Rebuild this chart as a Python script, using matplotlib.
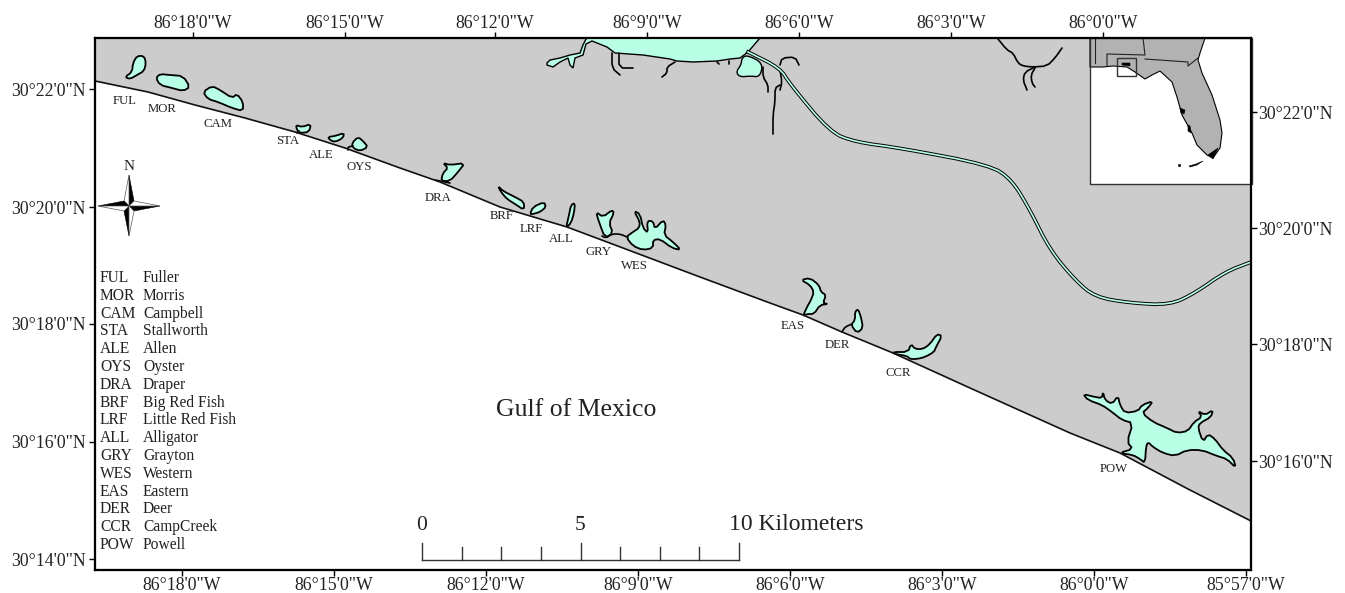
import matplotlib
matplotlib.use("Agg")
import matplotlib.pyplot as plt
from matplotlib.patches import Polygon, Rectangle

plt.rcParams["font.family"] = ["Liberation Serif", "DejaVu Serif"]

coast = [(95, 81), (148, 92), (195, 105), (245, 118), (295, 132), (345, 148), (400, 168),
         (440, 182), (500, 207), (567, 227), (607, 242), (700, 277), (770, 303), (803, 315),
         (842, 332), (893, 353), (970, 388), (1070, 433), (1120, 453), (1188, 489), (1251, 521)]

lagoons = {
    "FUL": [(125, 77), (132, 72), (133, 63), (137, 56), (144, 56), (146, 63), (144, 71), (137, 75), (130, 79)],
    "MOR": [(156, 78), (160, 74), (170, 75), (183, 76), (190, 87), (183, 91), (172, 88), (160, 85)],
    "CAM": [(203, 92), (212, 86), (220, 90), (232, 98), (237, 94), (243, 102), (243, 111), (232, 108), (218, 102), (208, 99)],
    "STA": [(296, 125), (302, 127), (311, 124), (309, 132), (300, 133), (297, 130)],
    "ALE": [(328, 137), (335, 136), (344, 133), (343, 138), (335, 142), (330, 140)],
    "OYS": [(352, 143), (358, 137), (363, 141), (368, 147), (360, 151), (353, 148)],
    "DRA": [(443, 163), (450, 165), (465, 163), (458, 172), (450, 181), (441, 181), (443, 173), (448, 168)],
    "BRF": [(498, 186), (503, 191), (515, 197), (524, 202), (524, 210), (515, 204), (507, 199), (501, 192)],
    "LRF": [(530, 214), (533, 207), (544, 202), (546, 207), (540, 212), (533, 214)],
    "ALL": [(566, 228), (569, 215), (571, 205), (575, 203), (574, 213), (571, 223)],
    "GRY": [(596, 212), (603, 217), (612, 210), (614, 213), (609, 223), (613, 233), (605, 238), (599, 222)],
    "WES": [(626, 237), (633, 232), (639, 228), (640, 222), (634, 211), (640, 214), (643, 228), (648, 233), (647, 221),
            (653, 221), (655, 229), (663, 220), (666, 225), (664, 235), (673, 242), (681, 250), (672, 248), (660, 239),
            (653, 240), (653, 248), (643, 250), (633, 246)],
    "EAS": [(801, 280), (810, 278), (819, 285), (821, 292), (826, 295), (823, 303), (828, 304), (820, 305), (814, 314),
            (807, 314), (803, 316), (807, 307), (811, 300), (814, 292), (810, 285)],
    "DER": [(855, 312), (858, 309), (861, 317), (863, 328), (857, 333), (851, 325), (855, 320)],
    "CCR": [(893, 352), (908, 352), (911, 344), (915, 349), (923, 349), (930, 344), (937, 334), (942, 336), (936, 347),
            (934, 352), (925, 357), (917, 359), (910, 359), (907, 356), (895, 354)],
    "POW": [(1083, 394), (1095, 397), (1102, 398), (1103, 392), (1105, 400), (1112, 404), (1118, 396), (1120, 405),
            (1125, 413), (1138, 411), (1142, 405), (1153, 401), (1148, 408), (1142, 413), (1153, 422), (1167, 428),
            (1177, 433), (1188, 431), (1194, 422), (1202, 417), (1198, 411), (1205, 415), (1213, 410), (1211, 417),
            (1200, 423), (1198, 428), (1203, 442), (1208, 434), (1215, 439), (1223, 450), (1233, 458), (1236, 468),
            (1227, 459), (1217, 456), (1202, 450), (1187, 450), (1175, 456), (1163, 453), (1153, 447), (1148, 442),
            (1146, 447), (1145, 463), (1140, 459), (1133, 455), (1119, 453), (1133, 449), (1127, 442), (1133, 423),
            (1122, 420), (1112, 412), (1102, 405), (1088, 400)],
}

bay = [(547, 63), (550, 60), (560, 58), (570, 55), (580, 53), (583, 45), (586, 39), (588, 38), (760, 38), (748, 52),
       (740, 58), (730, 59), (717, 61), (693, 62), (677, 61), (670, 59), (643, 55), (615, 53), (607, 47), (592, 41),
       (586, 44), (583, 55), (575, 58), (573, 68), (570, 65), (568, 58), (560, 62), (553, 67), (547, 65)]
bay_lobe = [(742, 58), (747, 55), (763, 63), (760, 77), (750, 76), (740, 77), (736, 72), (741, 65)]
canal = [(748, 52), (780, 68), (790, 84), (830, 132), (855, 142), (900, 148), (990, 165), (1012, 180), (1030, 210),
         (1050, 250), (1075, 280), (1095, 297), (1130, 303), (1170, 305), (1195, 293), (1225, 272), (1251, 262)]

streams = [
    [(612, 53), (612, 68), (620, 75)],
    [(619, 53), (619, 68), (633, 68)],
    [(675, 62), (667, 67), (667, 73), (662, 77)],
    [(780, 85), (775, 88), (775, 102), (773, 115), (773, 134)],
    [(780, 70), (782, 82), (780, 90)],
    [(763, 67), (763, 77), (768, 85), (768, 92)],
    [(780, 65), (782, 58), (795, 57), (799, 65)],
    [(717, 62), (719, 64)],
    [(729, 61), (729, 64)],
    [(998, 39), (1007, 50), (1013, 53), (1018, 63), (1023, 66), (1033, 67), (1047, 66), (1055, 58), (1062, 48)],
    [(1035, 67), (1025, 72), (1023, 80), (1027, 90)],
    [(1035, 68), (1031, 75), (1032, 83), (1035, 87)],
    [(297, 133), (299, 131)],
    [(348, 150), (348, 147), (353, 146)],
    [(435, 180), (450, 183)],
    [(842, 332), (845, 327), (852, 324)],
    [(602, 236), (606, 238), (612, 234), (620, 234), (627, 237)],
]

# inset locator
florida = [(1090, 38), (1205, 38), (1200, 53), (1198, 60), (1202, 73), (1212, 95), (1220, 120), (1222, 133), (1220, 148),
           (1213, 158), (1207, 155), (1197, 145), (1192, 133), (1182, 115), (1177, 97), (1172, 82), (1160, 71),
           (1152, 75), (1145, 79), (1135, 72), (1127, 67), (1113, 66), (1103, 67), (1090, 67)]
state_lines = [
    [(1095, 38), (1095, 63)],
    [(1107, 66), (1107, 54), (1145, 55), (1143, 38)],
    [(1145, 59), (1188, 62), (1188, 66), (1198, 58)],
]
inset_dark = [
    [(1208, 155), (1218, 148), (1213, 159)],
    [(1122, 63), (1130, 63), (1130, 66), (1122, 65)],
    [(1180, 108), (1185, 110), (1184, 114), (1181, 113)],
    [(1188, 125), (1190, 126), (1191, 133), (1188, 131)],
    [(1189, 166), (1196, 164), (1203, 161), (1197, 165), (1190, 167)],
    [(1178, 164), (1180, 164), (1180, 166), (1178, 166)],
]

site_codes = ["FUL", "MOR", "CAM", "STA", "ALE", "OYS", "DRA", "BRF", "LRF", "ALL", "GRY", "WES", "EAS", "DER", "CCR", "POW"]
site_names = ["Fuller", "Morris", "Campbell", "Stallworth", "Allen", "Oyster", "Draper", "Big Red Fish", "Little Red Fish",
              "Alligator", "Grayton", "Western", "Eastern", "Deer", "CampCreek", "Powell"]
site_label_x = [125, 162, 218, 288, 321, 359, 438, 502, 531, 561, 599, 634, 793, 837, 898, 1114]
site_label_y = [101, 109, 124, 141, 155, 167, 198, 216, 229, 239, 252, 266, 326, 345, 373, 469]

bottom_ticks = [182, 334, 486, 638, 790, 942, 1094, 1246]
bottom_labels = ["86°18'0\"W", "86°15'0\"W", "86°12'0\"W", "86°9'0\"W", "86°6'0\"W", "86°3'0\"W", "86°0'0\"W", "85°57'0\"W"]
top_ticks = [193, 345, 495, 647, 799, 951, 1103]
top_labels = bottom_labels[:7]
left_ticks = [89, 207, 324, 442, 559]
left_labels = ["30°22'0\"N", "30°20'0\"N", "30°18'0\"N", "30°16'0\"N", "30°14'0\"N"]
right_ticks = [112, 228, 344, 461]
right_labels = left_labels[:4]

scale_ticks = [422, 461.6, 501.2, 540.9, 580.5, 620.1, 659.8, 699.4, 739]
scale_labels = ["0", "5", "10 Kilometers"]

land_color = "#cccccc"
water_color = "#b8ffe6"
ink = "#111111"


def soften(pts, closed=True, rounds=2):
    # corner cutting so the traced shapes are not so angular
    for _ in range(rounds):
        out = []
        n = len(pts) if closed else len(pts) - 1
        for i in range(n):
            (x0, y0), (x1, y1) = pts[i], pts[(i + 1) % len(pts)]
            out.append((0.75 * x0 + 0.25 * x1, 0.75 * y0 + 0.25 * y1))
            out.append((0.25 * x0 + 0.75 * x1, 0.25 * y0 + 0.75 * y1))
        if not closed:
            out = [pts[0]] + out + [pts[-1]]
        pts = out
    return pts


fig = plt.figure(figsize=(13.45, 5.93), dpi=100)
ax = fig.add_axes([95 / 1345, 1 - 570 / 593, 1156 / 1345, 532 / 593])
ax.set_xlim(95, 1251)
ax.set_ylim(570, 38)

# land + waters
ax.add_patch(Polygon(coast + [(1251, 38), (95, 38)], fc=land_color, ec="none", zorder=1))
ax.plot(*zip(*coast), color=ink, lw=1.2, zorder=4)
for name, pts in lagoons.items():
    ax.add_patch(Polygon(soften(pts, rounds=1), fc=water_color, ec="black", lw=1.3, joinstyle="round", zorder=3))
ax.add_patch(Polygon(bay, fc=water_color, ec="black", lw=1.0, zorder=3))
ax.add_patch(Polygon(soften(bay_lobe), fc=water_color, ec="black", lw=1.0, zorder=3))
for s in streams:
    ax.plot(*zip(*soften(s, closed=False, rounds=1)), color="black", lw=1.2, solid_capstyle="round", zorder=3)
smooth_canal = soften(canal, closed=False, rounds=2)
ax.plot(*zip(*smooth_canal), color="black", lw=2.6, zorder=3, solid_joinstyle="round")
ax.plot(*zip(*smooth_canal), color=water_color, lw=1.2, zorder=3.1, solid_joinstyle="round")

# inset
ax.add_patch(Rectangle((1090, 38), 162, 146, fc="white", ec="none", zorder=5))
ax.add_patch(Polygon(florida, fc="#b2b2b2", ec="black", lw=0.8, zorder=6))
for s in state_lines:
    ax.plot(*zip(*s), color="#222222", lw=0.8, zorder=7)
for p in inset_dark:
    ax.add_patch(Polygon(p, fc="black", ec="black", lw=0.4, zorder=7))
ax.add_patch(Rectangle((1117, 58), 19, 18, fc="none", ec="#333333", lw=1.0, zorder=8))
ax.add_patch(Rectangle((1090, 38), 162, 146, fc="none", ec="#333333", lw=1.0, zorder=8, clip_on=False))

# site labels and key
for code, x, y in zip(site_codes, site_label_x, site_label_y):
    ax.text(x, y, code, fontsize=9.2, ha="center", va="center", color="#222222", zorder=9)
for i, (code, name) in enumerate(zip(site_codes, site_names)):
    y = 278 + i * 17.8
    ax.text(100, y, code, fontsize=11.2, ha="left", va="center", color="#222222")
    ax.text(143, y, name, fontsize=11.2, ha="left", va="center", color="#222222")

ax.text(576, 410, "Gulf of Mexico", fontsize=18.5, ha="center", va="center", color="#222222")

# compass
compass_c = (129, 206)
compass_tips = [(129, 175), (160, 206), (129, 236), (98, 206)]
compass_in = [(134, 201), (134, 211), (124, 211), (124, 201)]
for i in range(4):
    tip, a, b = compass_tips[i], compass_in[i], compass_in[i - 1]
    ax.add_patch(Polygon([tip, a, compass_c], fc="black", ec="black", lw=0.4, zorder=9))
    ax.add_patch(Polygon([tip, b, compass_c], fc="white", ec="#555555", lw=0.5, zorder=9))
ax.text(129, 166, "N", fontsize=11, ha="center", va="center", color="#222222")

# scale bar
ax.plot([scale_ticks[0], scale_ticks[-1]], [560, 560], color="#333333", lw=1.0)
for i, x in enumerate(scale_ticks):
    ax.plot([x, x], [543 if i % 4 == 0 else 547, 560], color="#333333", lw=1.0)
ax.text(scale_ticks[0], 525, scale_labels[0], fontsize=15.5, ha="center", va="center", color="#222222")
ax.text(scale_ticks[4], 525, scale_labels[1], fontsize=15.5, ha="center", va="center", color="#222222")
ax.text(729, 525, scale_labels[2], fontsize=17, ha="left", va="center", color="#222222")

# graticule labels, top/bottom and left/right ticks do not line up
ax.set_xticks(bottom_ticks, bottom_labels)
ax.set_yticks(left_ticks, left_labels)
ax_top = ax.twiny()
ax_top.set_xlim(ax.get_xlim())
ax_top.set_xticks(top_ticks, top_labels)
ax_right = ax.twinx()
ax_right.set_ylim(ax.get_ylim())
ax_right.set_yticks(right_ticks, right_labels)
for a in (ax, ax_top, ax_right):
    a.tick_params(length=4, width=1.0, labelsize=12.8, labelcolor="#222222", pad=1.5)
    for sp in a.spines.values():
        sp.set_linewidth(1.5)
ax_top.tick_params(pad=0)
ax.tick_params(axis="x", pad=1)
ax.tick_params(axis="y", pad=3)
ax_right.tick_params(pad=1)

fig.savefig("out.png", dpi=100)
